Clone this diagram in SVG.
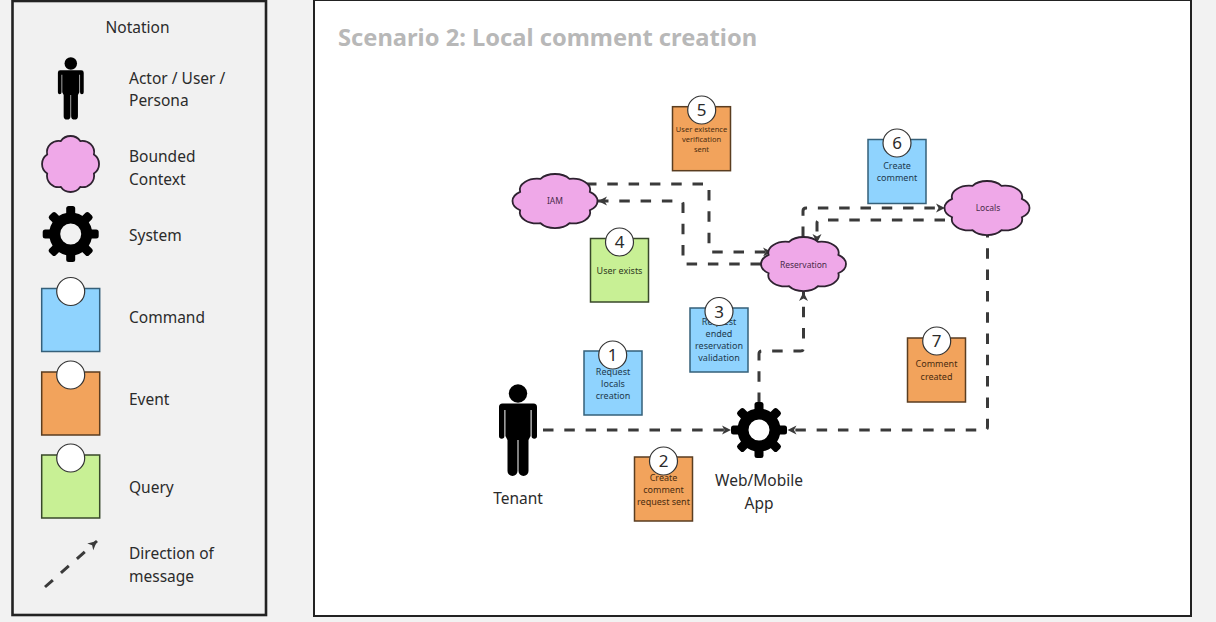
<svg xmlns="http://www.w3.org/2000/svg" width="1216" height="622" viewBox="0 0 1216 622">
<style>
text{font-family:"Noto Sans","Open Sans","Liberation Sans",sans-serif;fill:#2b2b2b}
.lbl{font-size:15.5px}
.ctr{text-anchor:middle}
.num{font-size:17px;text-anchor:middle}
.t9{font-size:9px;text-anchor:middle}
.t7{font-size:7.5px;text-anchor:middle}
.cl{font-size:8.5px;text-anchor:middle;fill:#4a2b4a}
.blue{fill:#8fd3fe;stroke:#35607a;stroke-width:1.5}
.orange{fill:#f2a35c;stroke:#5a3d20;stroke-width:1.5}
.green{fill:#c8f095;stroke:#38482a;stroke-width:1.5}
.tb{fill:#1d3a4e}.to{fill:#4a2c10}.tg{fill:#2f3a22}
.dot{fill:#fff;stroke:#333;stroke-width:1.2}
.cloud{fill:#efa8e8;stroke:#2e2230;stroke-width:1.8;vector-effect:non-scaling-stroke}
.conn{fill:none;stroke:#3a3a3a;stroke-width:3;stroke-dasharray:10.5 10.8;marker-end:url(#arrow)}
</style>
<defs>
<marker id="arrow" markerUnits="userSpaceOnUse" markerWidth="12" markerHeight="12" viewBox="-10 -6 12 12" refX="0" refY="0" orient="auto">
<path d="M0,0 L-9,-4.5 L-6.5,0 L-9,4.5 Z" fill="#3a3a3a"/>
</marker>
<path id="cloud" class="cloud" d="M65.7,12.1 A19,19 0 0 1 87.9,34.3 A19,19 0 0 1 87.9,65.7 A19,19 0 0 1 65.7,87.9 A19,19 0 0 1 34.3,87.9 A19,19 0 0 1 12.1,65.7 A19,19 0 0 1 12.1,34.3 A19,19 0 0 1 34.3,12.1 A19,19 0 0 1 65.7,12.1 Z"/>
<g id="actor">
<circle cx="0" cy="9.5" r="9.2" fill="#000"/>
<path fill="#000" d="M-19,23 a3.5,3.5 0 0 1 3.5,-3.5 H15.5 a3.5,3.5 0 0 1 3.5,3.5 V52 a2.7,2.7 0 0 1 -5.4,0 V26 H12.6 V52 L10.5,56 V87 a5,5 0 0 1 -10,0 V56 H-0.5 V87 a5,5 0 0 1 -10,0 V56 L-12.6,52 V26 H-13.6 V52 a2.7,2.7 0 0 1 -5.4,0 Z"/>
</g>
<g id="gear" fill="#000">
<circle r="16" fill="none" stroke="#000" stroke-width="11"/>
<rect x="-4.5" y="-28" width="9" height="10" rx="2.5"/>
<rect x="-4.5" y="-28" width="9" height="10" rx="2.5" transform="rotate(45)"/>
<rect x="-4.5" y="-28" width="9" height="10" rx="2.5" transform="rotate(90)"/>
<rect x="-4.5" y="-28" width="9" height="10" rx="2.5" transform="rotate(135)"/>
<rect x="-4.5" y="-28" width="9" height="10" rx="2.5" transform="rotate(180)"/>
<rect x="-4.5" y="-28" width="9" height="10" rx="2.5" transform="rotate(225)"/>
<rect x="-4.5" y="-28" width="9" height="10" rx="2.5" transform="rotate(270)"/>
<rect x="-4.5" y="-28" width="9" height="10" rx="2.5" transform="rotate(315)"/>
</g>
</defs>

<rect width="1216" height="622" fill="#f2f2f2"/>

<g id="legend">
<rect x="12.5" y="1" width="253.5" height="614" fill="#f1f1f1" stroke="#222" stroke-width="2.6"/>
<text class="lbl ctr" x="137.5" y="32.5">Notation</text>
<g id="legend-actor"><use href="#actor" transform="translate(70.8,57) scale(.68,.68)"/>
<text class="lbl" x="129" y="83.5">Actor / User /</text><text class="lbl" x="129" y="106">Persona</text></g>
<g id="legend-context"><use href="#cloud" transform="translate(39.7,133.7) scale(.617,.606)"/>
<text class="lbl" x="129" y="161.5">Bounded</text><text class="lbl" x="129" y="184.5">Context</text></g>
<g id="legend-system"><use href="#gear" transform="translate(70.7,234)"/>
<text class="lbl" x="129" y="240.5">System</text></g>
<g id="legend-command"><rect class="blue" x="41.7" y="288.5" width="58" height="63"/><circle class="dot" cx="70.7" cy="291.5" r="14"/>
<text class="lbl" x="129" y="322.5">Command</text></g>
<g id="legend-event"><rect class="orange" x="41.7" y="372" width="58" height="63"/><circle class="dot" cx="70.7" cy="375" r="14"/>
<text class="lbl" x="129" y="404.5">Event</text></g>
<g id="legend-query"><rect class="green" x="41.7" y="455" width="58" height="63"/><circle class="dot" cx="70.7" cy="458" r="14"/>
<text class="lbl" x="129" y="492.5">Query</text></g>
<g id="legend-message"><path class="conn" d="M45,587 L97,541"/>
<text class="lbl" x="129" y="558.5">Direction of</text><text class="lbl" x="129" y="581.5">message</text></g>
</g>

<g id="scenario-panel">
<rect x="314" y="0" width="877" height="616" fill="#fff" stroke="#222" stroke-width="2"/>
<text x="338" y="46" font-size="23.7" font-weight="700" style="fill:#b8b8b8">Scenario 2: Local comment creation</text>
</g>

<g id="connectors">
<path class="conn" d="M543,430 H731"/>
<path class="conn" d="M759,403 V354 Q759,351 762,351 H800.5 Q803.5,351 803.5,348 V292"/>
<path class="conn" d="M987.5,227 V427 Q987.5,430 984.5,430 H787.5"/>
<path class="conn" d="M803,237 V211 Q803,208 806,208 H945"/>
<path class="conn" d="M945,220 H820 Q817,220 817,223 V243"/>
<path class="conn" d="M761,264 H686 Q683,264 683,261 V204 Q683,201 680,201 H598"/>
<path class="conn" d="M586,184 H706 Q709,184 709,187 V249 Q709,252 712,252 H772"/>
</g>

<g id="iam"><use href="#cloud" transform="translate(509,171.8) scale(.92,.585)"/><text class="cl" x="555" y="204">IAM</text></g>
<g id="reservation"><use href="#cloud" transform="translate(757.5,234.8) scale(.92,.585)"/><text class="cl" x="803.5" y="268">Reservation</text></g>
<g id="locals"><use href="#cloud" transform="translate(941,178.8) scale(.92,.585)"/><text class="cl" x="988" y="211">Locals</text></g>

<g id="tenant"><use href="#actor" transform="translate(518,384)"/><text class="lbl ctr" x="518" y="503.5">Tenant</text></g>
<g id="webapp"><use href="#gear" transform="translate(759,430)"/><text class="lbl ctr" x="759" y="485.5">Web/Mobile</text><text class="lbl ctr" x="759" y="508.5">App</text></g>

<g id="card-1"><rect class="blue" x="584" y="351" width="58" height="64"/>
<text class="t9 tb" x="613" y="374.5">Request</text><text class="t9 tb" x="613" y="386.5">locals</text><text class="t9 tb" x="613" y="398.5">creation</text>
<circle class="dot" cx="612.7" cy="355" r="14"/><text class="num" x="612.7" y="361">1</text></g>
<g id="card-2"><rect class="orange" x="634.5" y="457" width="58" height="64"/>
<text class="t9 to" x="663.5" y="480.5">Create</text><text class="t9 to" x="663.5" y="492.5">comment</text><text class="t9 to" x="663.5" y="505">request sent</text>
<circle class="dot" cx="663.5" cy="461" r="14"/><text class="num" x="663.5" y="467">2</text></g>
<g id="card-3"><rect class="blue" x="690" y="308" width="58" height="64"/>
<text class="t9 tb" x="719" y="325">Request</text><text class="t9 tb" x="719" y="337">ended</text><text class="t9 tb" x="719" y="349">reservation</text><text class="t9 tb" x="719" y="361">validation</text>
<circle class="dot" cx="719" cy="311.5" r="14"/><text class="num" x="719" y="317.5">3</text></g>
<g id="card-4"><rect class="green" x="590.5" y="238.5" width="58" height="63.5"/>
<text class="t9 tg" x="619.5" y="274">User exists</text>
<circle class="dot" cx="619.5" cy="242" r="14"/><text class="num" x="619.5" y="248">4</text></g>
<g id="card-5"><rect class="orange" x="672.5" y="106.7" width="58" height="64"/>
<text class="t7 to" x="701.5" y="131.5">User existence</text><text class="t7 to" x="701.5" y="141.5">verification</text><text class="t7 to" x="701.5" y="151.5">sent</text>
<circle class="dot" cx="701.7" cy="110" r="14"/><text class="num" x="701.7" y="116">5</text></g>
<g id="card-6"><rect class="blue" x="868" y="139.5" width="58" height="64"/>
<text class="t9 tb" x="897" y="169">Create</text><text class="t9 tb" x="897" y="181">comment</text>
<circle class="dot" cx="897" cy="143" r="14"/><text class="num" x="897" y="149">6</text></g>
<g id="card-7"><rect class="orange" x="907.5" y="338" width="58" height="64"/>
<text class="t9 to" x="936.5" y="367">Comment</text><text class="t9 to" x="936.5" y="379.5">created</text>
<circle class="dot" cx="936.7" cy="341" r="14"/><text class="num" x="936.7" y="347">7</text></g>
</svg>
